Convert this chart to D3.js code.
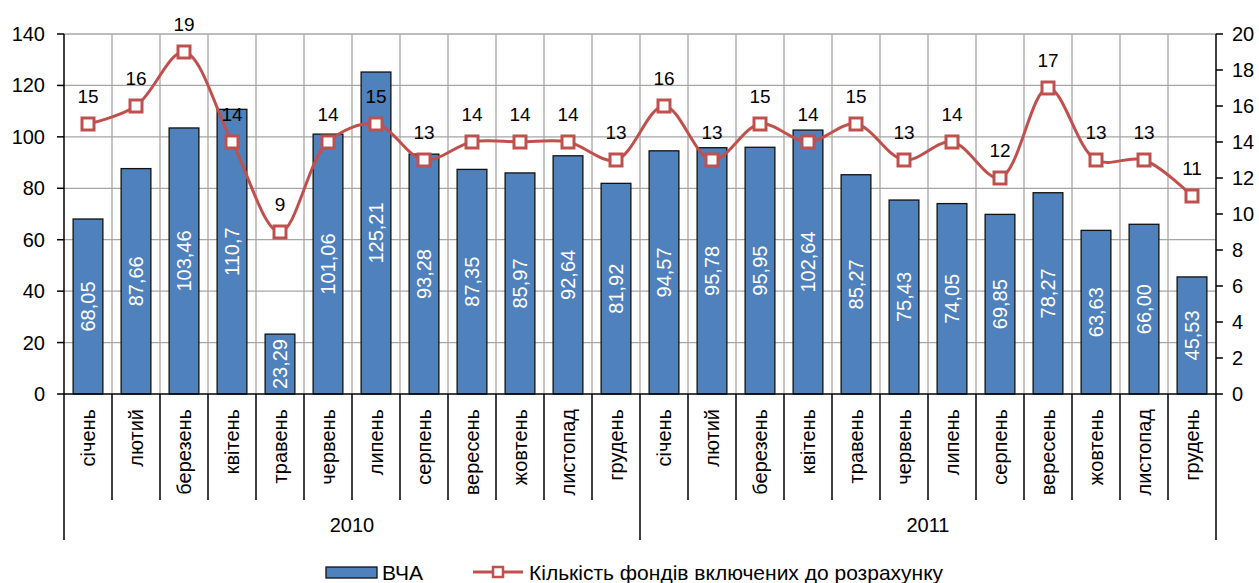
<!doctype html>
<html lang="uk">
<head>
<meta charset="utf-8">
<title>ВЧА та кількість фондів</title>
<script src="https://d3js.org/d3.v7.min.js"></script>
<style>
  body { margin: 0; background: #fff; font-family: 'Liberation Sans', Arial, sans-serif; }
  svg text { font-family: 'Liberation Sans', Arial, sans-serif; }
</style>
</head>
<body>
<svg id="chart" width="1259" height="583"></svg>
<script>
// months (both years use the same names)
const months = ["січень","лютий","березень","квітень","травень","червень","липень","серпень","вересень","жовтень","листопад","грудень"];
const years = ["2010", "2011"];
// ВЧА, bars (left axis)
const vcha = [68.05, 87.66, 103.46, 110.7, 23.29, 101.06, 125.21, 93.28, 87.35, 85.97, 92.64, 81.92,
              94.57, 95.78, 95.95, 102.64, 85.27, 75.43, 74.05, 69.85, 78.27, 63.63, 66.00, 45.53];
const vchaLabels = ["68,05","87,66","103,46","110,7","23,29","101,06","125,21","93,28","87,35","85,97","92,64","81,92",
                    "94,57","95,78","95,95","102,64","85,27","75,43","74,05","69,85","78,27","63,63","66,00","45,53"];
// number of funds (right axis)
const funds = [15,16,19,14,9,14,15,13,14,14,14,13, 16,13,15,14,15,13,14,12,17,13,13,11];
const leftTicks = [0,20,40,60,80,100,120,140];
const rightTicks = [0,2,4,6,8,10,12,14,16,18,20];

const svg = d3.select("#chart");
const pLeft = 64, pRight = 1216, pTop = 34, pBottom = 394;

const keys = d3.range(vcha.length);
const x = d3.scaleBand().domain(keys).range([pLeft, pRight]).paddingInner(0.38).paddingOuter(0.19);
const step = x.step();
const cx = i => x(i) + x.bandwidth() / 2;
const y = d3.scaleLinear().domain([0, 140]).range([pBottom, pTop]);
const y2 = d3.scaleLinear().domain([0, 20]).range([pBottom, pTop]);

// gridlines
const grid = svg.append("g").attr("stroke", "#a6a6a6").attr("stroke-width", 1.3);
grid.selectAll("line.h").data(leftTicks.slice(1)).enter().append("line")
  .attr("x1", pLeft).attr("x2", pRight)
  .attr("y1", d => y(d)).attr("y2", d => y(d));
grid.selectAll("line.v").data(keys.slice(1)).enter().append("line")
  .attr("x1", d => pLeft + d * step).attr("x2", d => pLeft + d * step)
  .attr("y1", pTop).attr("y2", pBottom);

// bars
svg.selectAll("rect.bar").data(vcha).enter().append("rect")
  .attr("class", "bar")
  .attr("x", (d, i) => x(i))
  .attr("y", d => y(d))
  .attr("width", x.bandwidth())
  .attr("height", d => pBottom - y(d))
  .attr("fill", "#4f81bd")
  .attr("stroke", "#111")
  .attr("stroke-width", 1.3);

// bar labels
svg.selectAll("text.bl").data(vcha).enter().append("text")
  .attr("transform", (d, i) => `translate(${cx(i) + 7},${(y(d) + pBottom) / 2}) rotate(-90)`)
  .attr("text-anchor", "middle")
  .attr("fill", "#fff")
  .attr("font-size", 20)
  .text((d, i) => vchaLabels[i]);

// left axis
const ax = svg.append("g").attr("stroke", "#000").attr("stroke-width", 1.5);
ax.append("line").attr("x1", pLeft).attr("x2", pLeft).attr("y1", pTop).attr("y2", 540);
ax.selectAll("line.t").data(leftTicks).enter().append("line")
  .attr("x1", pLeft - 7).attr("x2", pLeft).attr("y1", d => y(d)).attr("y2", d => y(d));
svg.selectAll("text.yl").data(leftTicks).enter().append("text")
  .attr("x", pLeft - 19).attr("y", d => y(d) + 7)
  .attr("text-anchor", "end").attr("font-size", 20).text(d => d);

// right axis
ax.append("line").attr("x1", pRight).attr("x2", pRight).attr("y1", pTop).attr("y2", 540);
ax.selectAll("line.t2").data(rightTicks).enter().append("line")
  .attr("x1", pRight).attr("x2", pRight + 7).attr("y1", d => y2(d)).attr("y2", d => y2(d));
svg.selectAll("text.yr").data(rightTicks).enter().append("text")
  .attr("x", pRight + 16).attr("y", d => y2(d) + 7)
  .attr("text-anchor", "start").attr("font-size", 20).text(d => d);

// category axis
ax.append("line").attr("x1", pLeft).attr("x2", pRight).attr("y1", pBottom).attr("y2", pBottom);
ax.selectAll("line.c").data(keys.slice(1)).enter().append("line")
  .attr("x1", d => pLeft + d * step).attr("x2", d => pLeft + d * step)
  .attr("y1", pBottom).attr("y2", d => d === months.length ? 540 : 500);
svg.selectAll("text.m").data(keys).enter().append("text")
  .attr("transform", d => `translate(${cx(d) + 7},409) rotate(-90)`)
  .attr("text-anchor", "end").attr("font-size", 20)
  .text(d => months[d % months.length]);
svg.selectAll("text.yr2").data(years).enter().append("text")
  .attr("x", (d, i) => pLeft + (i + 0.5) * months.length * step)
  .attr("y", 532).attr("text-anchor", "middle").attr("font-size", 20).text(d => d);

// funds line
const line = d3.line()
  .x((d, i) => cx(i))
  .y(d => y2(d))
  .curve(d3.curveCatmullRom.alpha(0.5));
svg.append("path").datum(funds)
  .attr("d", line).attr("fill", "none")
  .attr("stroke", "#c0504d").attr("stroke-width", 3);
svg.selectAll("rect.mk").data(funds).enter().append("rect")
  .attr("x", (d, i) => cx(i) - 6)
  .attr("y", d => y2(d) - 6)
  .attr("width", 12).attr("height", 12)
  .attr("fill", "#fff").attr("stroke", "#c0504d").attr("stroke-width", 3);
svg.selectAll("text.fl").data(funds).enter().append("text")
  .attr("x", (d, i) => cx(i))
  .attr("y", d => y2(d) - 21)
  .attr("text-anchor", "middle").attr("font-size", 19).text(d => d);

// legend
const lg = svg.append("g");
lg.append("rect").attr("x", 326).attr("y", 567).attr("width", 51).attr("height", 11)
  .attr("fill", "#4f81bd").attr("stroke", "#111").attr("stroke-width", 1.3);
lg.append("text").attr("x", 382).attr("y", 580).attr("font-size", 21).text("ВЧА");
lg.append("line").attr("x1", 473).attr("x2", 523).attr("y1", 572).attr("y2", 572)
  .attr("stroke", "#c0504d").attr("stroke-width", 3);
lg.append("rect").attr("x", 493).attr("y", 567).attr("width", 10).attr("height", 10)
  .attr("fill", "#fff").attr("stroke", "#c0504d").attr("stroke-width", 2.5);
lg.append("text").attr("x", 529).attr("y", 580).attr("font-size", 21).text("Кількість фондів включених до розрахунку");
</script>
</body>
</html>
